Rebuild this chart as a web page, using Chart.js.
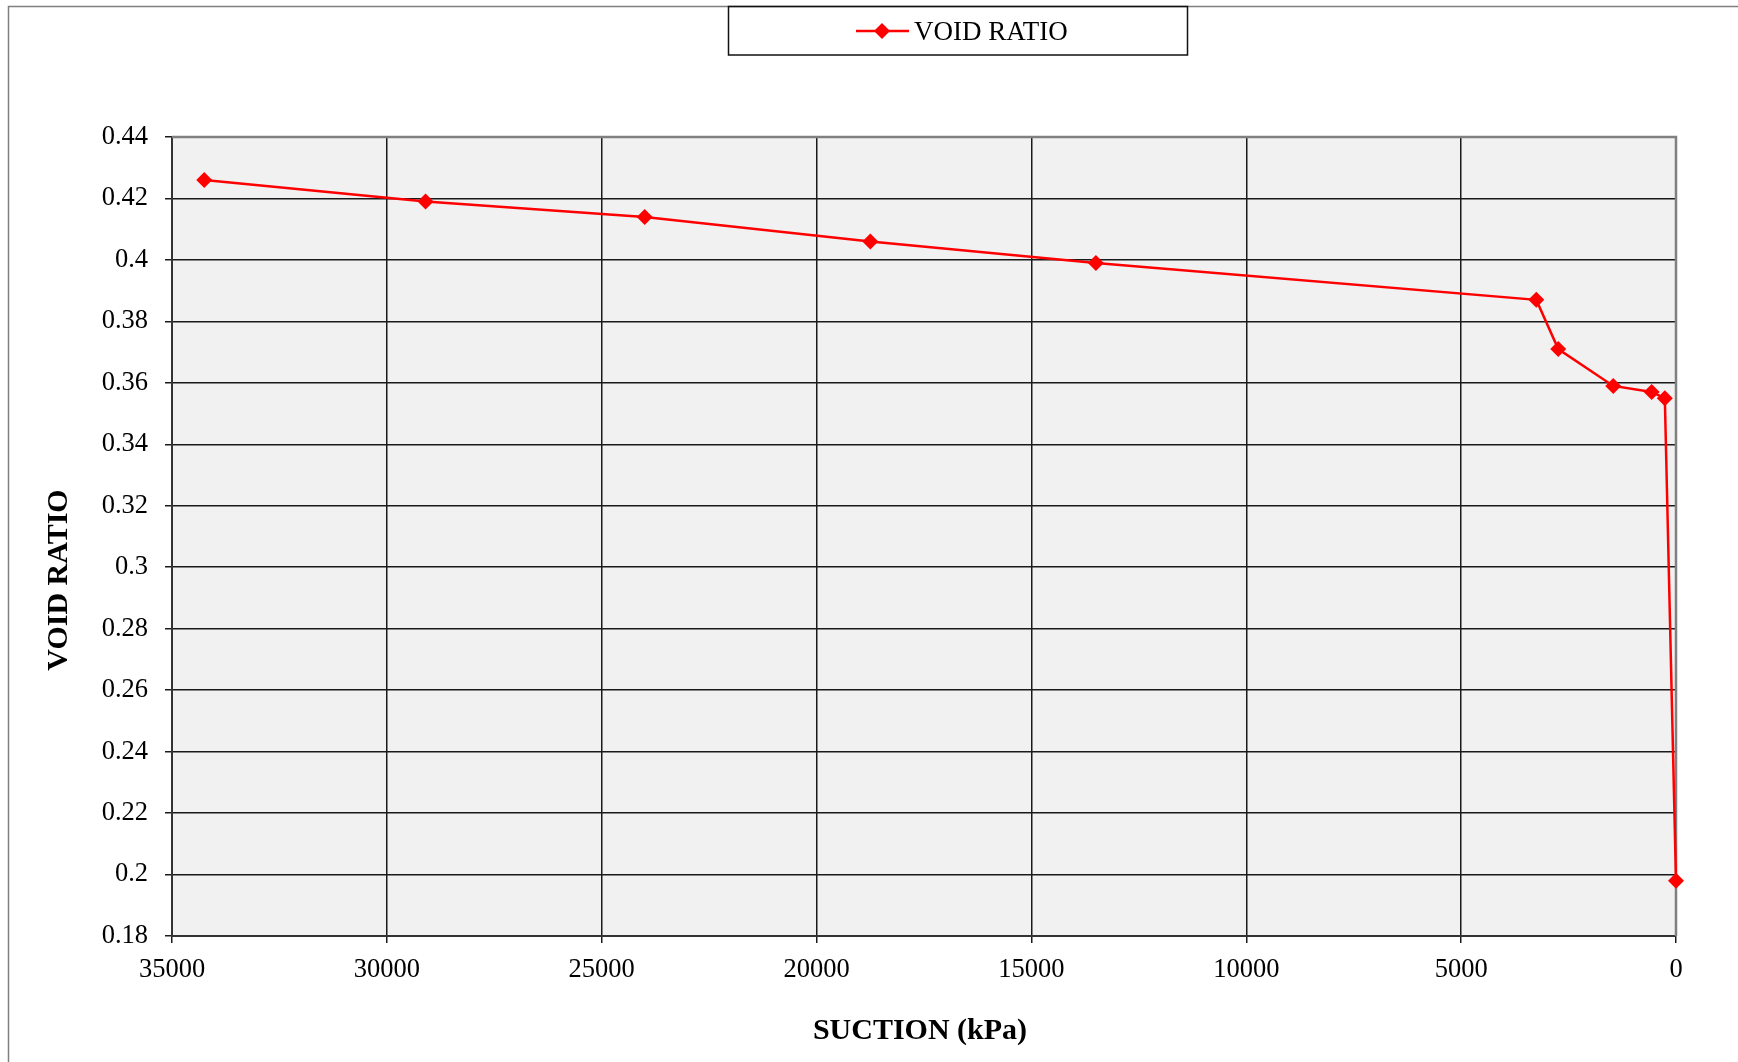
<!DOCTYPE html>
<html>
<head>
<meta charset="utf-8">
<title>Void ratio vs suction</title>
<script src="https://cdn.jsdelivr.net/npm/chart.js@4/dist/chart.umd.min.js"></script>
<style>
  html, body { margin: 0; padding: 0; background: #fff; }
  canvas { display: block; }
</style>
</head>
<body>
<canvas id="chart-void" width="1738" height="1062"></canvas>
<script>
// suction (kPa) and the matching void ratio readings
const suction = [34250, 29100, 24000, 18750, 13500, 3250, 2740, 1460, 566, 260, 0];
const voidRatio = [0.426, 0.419, 0.414, 0.406, 0.399, 0.387, 0.371, 0.359, 0.357, 0.355, 0.198];

const xTitle = 'SUCTION (kPa)';
const yTitle = 'VOID RATIO';
const seriesLabel = 'VOID RATIO';

const SERIF = "'Liberation Serif', 'Times New Roman', serif";
const RED = '#ff0000';

// plot background, outer frame and the grey top/right edges of the plot
const framePlugin = {
  id: 'frame',
  beforeDraw(chart) {
    const { ctx, chartArea: a } = chart;
    ctx.save();
    ctx.fillStyle = '#f1f1f1';
    ctx.fillRect(a.left, a.top, a.right - a.left, a.bottom - a.top);
    ctx.strokeStyle = '#7f7f7f';
    ctx.lineWidth = 1.5;
    ctx.beginPath();
    ctx.moveTo(8.5, chart.height + 2);
    ctx.lineTo(8.5, 6.5);
    ctx.lineTo(chart.width + 2, 6.5);
    ctx.stroke();
    ctx.restore();
  },
  beforeDatasetsDraw(chart) {
    const { ctx, chartArea: a } = chart;
    ctx.save();
    ctx.strokeStyle = '#808080';
    ctx.lineWidth = 2.5;
    ctx.beginPath();
    ctx.moveTo(a.left, a.top);
    ctx.lineTo(a.right, a.top);
    ctx.lineTo(a.right, a.bottom);
    ctx.stroke();
    ctx.restore();
  },
};

// boxed legend and the two axis titles
const labelsPlugin = {
  id: 'labels',
  afterDraw(chart) {
    const { ctx } = chart;
    const ds = chart.data.datasets[0];
    ctx.save();

    ctx.strokeStyle = '#111';
    ctx.lineWidth = 1.5;
    ctx.strokeRect(728.5, 6.5, 459, 48.5);

    ctx.strokeStyle = ds.borderColor;
    ctx.lineWidth = ds.borderWidth;
    ctx.beginPath();
    ctx.moveTo(856, 31);
    ctx.lineTo(909, 31);
    ctx.stroke();
    const r = 8;
    ctx.fillStyle = ds.pointBackgroundColor;
    ctx.beginPath();
    ctx.moveTo(882, 31 - r);
    ctx.lineTo(882 + r, 31);
    ctx.lineTo(882, 31 + r);
    ctx.lineTo(882 - r, 31);
    ctx.closePath();
    ctx.fill();

    ctx.fillStyle = '#000';
    ctx.font = `27px ${SERIF}`;
    ctx.textAlign = 'left';
    ctx.textBaseline = 'alphabetic';
    ctx.fillText(ds.label, 914, 40);

    ctx.font = `bold 30px ${SERIF}`;
    ctx.textAlign = 'center';
    ctx.fillText(xTitle, 920, 1039);

    ctx.translate(67, 580);
    ctx.rotate(-Math.PI / 2);
    ctx.fillText(yTitle, 0, 0);
    ctx.restore();
  },
};

new Chart(document.getElementById('chart-void'), {
  type: 'line',
  data: {
    datasets: [{
      label: seriesLabel,
      data: suction.map((s, i) => ({ x: s, y: voidRatio[i] })),
      borderColor: RED,
      backgroundColor: RED,
      pointBackgroundColor: RED,
      pointBorderColor: RED,
      borderWidth: 2.5,
      pointStyle: 'rectRot',
      pointRadius: 8,
      pointBorderWidth: 0,
      tension: 0,
      fill: false,
      clip: false,
    }],
  },
  options: {
    responsive: false,
    animation: false,
    devicePixelRatio: 1,
    layout: { padding: { left: 0, top: 137, right: 62, bottom: 0 } },
    plugins: {
      legend: { display: false },
      tooltip: { enabled: false },
    },
    scales: {
      x: {
        type: 'linear',
        reverse: true,
        min: 0,
        max: 35000,
        afterFit: s => { s.height = 126; },
        grid: { color: '#1a1a1a', lineWidth: 1.5, tickLength: 7 },
        border: { color: '#333', width: 2 },
        ticks: {
          stepSize: 5000,
          padding: 11,
          color: '#000',
          font: { family: SERIF, size: 26.5 },
          maxRotation: 0,
          callback: v => String(v),
        },
      },
      y: {
        min: 0.18,
        max: 0.44,
        afterFit: s => { s.width = 172; },
        grid: { color: '#1a1a1a', lineWidth: 1.5, tickLength: 7 },
        border: { color: '#333', width: 2 },
        ticks: {
          stepSize: 0.02,
          padding: 17,
          color: '#000',
          font: { family: SERIF, size: 26.5 },
          callback: v => String(+v.toFixed(2)),
        },
      },
    },
  },
  plugins: [framePlugin, labelsPlugin],
});
</script>
</body>
</html>
